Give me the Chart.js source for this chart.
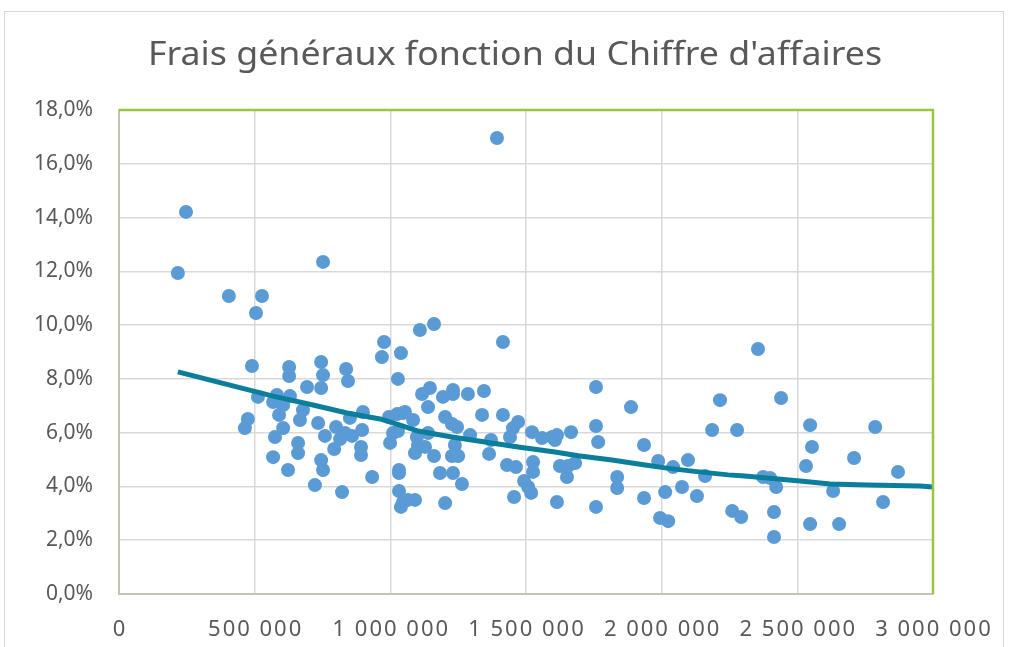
<!DOCTYPE html>
<html>
<head>
<meta charset="utf-8">
<script src="https://cdn.jsdelivr.net/npm/chart.js@4/dist/chart.umd.min.js"></script>
<style>
html,body{margin:0;padding:0;background:#fff;overflow:hidden;}
#wrap{position:relative;width:1010px;height:647px;}
</style>
</head>
<body>
<div id="wrap"><canvas id="c" width="1010" height="647"></canvas></div>
<script>
// Chiffre d'affaires (€)
const chiffreAffaires = [
 217000,247000,405000,527000,505000,752000,1393000,490000,977000,969000,
 1039000,627000,627000,745000,752000,745000,837000,844000,693000,1028000,
 512000,582000,630000,568000,605000,678000,590000,667000,734000,899000,
 851000,995000,1025000,1047000,475000,464000,605000,575000,800000,759000,
 833000,815000,896000,859000,892000,892000,793000,1010000,999000,660000,
 660000,568000,745000,752000,623000,933000,1032000,1032000,722000,822000,
 1032000,1047000,1039000,1109000,1161000,1415000,1117000,1146000,1194000,1231000,
 1231000,1286000,1345000,1139000,1054000,1084000,1202000,1227000,1246000,1338000,
 1415000,1471000,1452000,1441000,1522000,1559000,1596000,1028000,1098000,1139000,
 1102000,1128000,1091000,1161000,1238000,1227000,1250000,1294000,1371000,1364000,
 1183000,1231000,1264000,1430000,1463000,1526000,1526000,1493000,1508000,1519000,
 1456000,1065000,1091000,1202000,1614000,1758000,1887000,1758000,1766000,1614000,
 1607000,1666000,1935000,2186000,2278000,2215000,1625000,1655000,1681000,1651000,
 1836000,1836000,1987000,2042000,2097000,2160000,2075000,2013000,1935000,2130000,
 1758000,1994000,2024000,2260000,2293000,2355000,2440000,2547000,2787000,2554000,
 2532000,2709000,2871000,2374000,2400000,2422000,2632000,2816000,2414000,2547000,
 2654000,2414000
];
// Frais généraux (% du CA)
const fraisGeneraux = [
 11.94,14.21,11.08,11.08,10.45,12.35,16.96,8.48,9.37,8.81,
 8.96,8.44,8.11,8.63,8.14,7.66,8.37,7.92,7.70,8.00,
 7.33,7.40,7.36,7.14,7.03,6.84,6.66,6.47,6.36,6.77,
 6.55,6.58,6.69,6.73,6.51,6.17,6.17,5.84,6.21,5.88,
 5.99,5.76,6.10,5.88,5.47,5.17,5.39,5.99,5.62,5.62,
 5.24,5.09,4.98,4.61,4.61,4.35,4.61,4.50,4.05,3.79,
 3.83,3.42,3.24,9.82,10.04,9.37,7.44,7.66,7.33,7.59,
 7.44,7.44,7.55,6.95,6.77,6.47,6.58,6.32,6.21,6.66,
 6.66,6.40,6.17,5.84,6.02,5.80,5.84,6.06,5.84,5.99,
 5.54,5.47,5.24,5.13,5.54,5.13,5.13,5.91,5.73,5.21,
 4.50,4.50,4.09,4.80,4.72,4.91,4.54,4.20,3.98,3.76,
 3.61,3.50,3.50,3.38,3.42,7.70,6.95,6.25,5.65,5.91,
 5.73,6.02,5.54,6.10,6.10,7.21,4.76,4.76,4.87,4.35,
 4.35,3.94,4.95,4.72,4.98,4.39,3.98,3.79,3.57,3.64,
 3.24,2.83,2.71,3.09,2.86,9.11,7.29,6.28,6.21,5.47,
 4.76,5.06,4.54,4.35,4.31,3.98,3.83,3.42,3.05,2.60,
 2.60,2.12
];
// Courbe de tendance
const tendanceX = [217000,409000,568000,715000,840000,962000,1036000,1102000,1227000,1349000,1471000,1607000,1692000,1817000,1939000,2013000,2112000,2245000,2307000,2510000,2621000,2757000,2952000,3000000];
const tendanceY = [8.26,7.77,7.36,7.03,6.73,6.51,6.28,6.06,5.84,5.65,5.47,5.28,5.14,4.98,4.80,4.69,4.57,4.43,4.39,4.20,4.09,4.05,4.02,3.98];

const titre = "Frais généraux fonction du Chiffre d'affaires";
const xTicks = [0,500000,1000000,1500000,2000000,2500000,3000000];
const yTicks = [0,2,4,6,8,10,12,14,16,18];

const pts = chiffreAffaires.map((x,i)=>({x:x,y:fraisGeneraux[i]}));
const trend = tendanceX.map((x,i)=>({x:x,y:tendanceY[i]}));

const fmtX = v => String(v).replace(/\B(?=(\d{3})+(?!\d))/g,' ');
const fmtY = v => v.toFixed(1).replace('.', ',') + '%';

const deco = {
  id:'deco',
  beforeDraw(chart){
    const ctx = chart.ctx;
    ctx.save();
    ctx.fillStyle = '#fff';
    ctx.fillRect(0,0,chart.width,chart.height);
    ctx.strokeStyle = '#d9d9d9';
    ctx.lineWidth = 1;
    ctx.strokeRect(4.5,11.5,999,700);
    ctx.restore();
  },
  afterDraw(chart){
    const a = chart.chartArea, ctx = chart.ctx;
    ctx.save();
    ctx.strokeStyle = '#9bc53d';
    ctx.lineWidth = 2.5;
    ctx.beginPath();
    ctx.moveTo(a.left, a.top);
    ctx.lineTo(a.right, a.top);
    ctx.lineTo(a.right, a.bottom);
    ctx.stroke();
    // title
    ctx.font = "33px 'Noto Sans'";
    ctx.fillStyle = '#595959';
    ctx.textBaseline = 'alphabetic';
    ctx.textAlign = 'center';
    const w = ctx.measureText(titre).width;
    const sx = 734 / w;
    ctx.translate(515, 65);
    ctx.scale(sx, 1);
    ctx.fillText(titre, 0, 0);
    ctx.restore();
  }
};

const chart = new Chart(document.getElementById('c'), {
  type: 'scatter',
  data: {
    datasets: [
      {
        type: 'line',
        data: trend,
        borderColor: '#0a7e9b',
        borderWidth: 5,
        pointRadius: 0,
        fill: false,
        tension: 0,
        order: 0
      },
      {
        data: pts,
        backgroundColor: '#5b9bd5',
        borderWidth: 0,
        pointRadius: 7,
        order: 1
      }
    ]
  },
  options: {
    responsive: false,
    animation: false,
    layout: { padding: { left: 0, right: 77, top: 110, bottom: 0 } },
    plugins: {
      legend: { display: false },
      tooltip: { enabled: false },
      title: { display: false }
    },
    scales: {
      x: {
        type: 'linear',
        min: 0, max: 3000000,
        afterBuildTicks: s => { s.ticks = xTicks.map(v=>({value:v})); },
        afterFit: s => { s.height = 53; },
        grid: { color: '#d9d9d9', lineWidth: 1.5, drawTicks: false },
        border: { color: '#c3c5b2', width: 2 },
        ticks: { callback: fmtX, color: '#595959', padding: 23, maxRotation: 0,
                 font: { family: "'Noto Sans'", size: 22 } }
      },
      y: {
        type: 'linear',
        min: 0, max: 18,
        afterBuildTicks: s => { s.ticks = yTicks.map(v=>({value:v})); },
        afterFit: s => { s.width = 119; },
        grid: { color: '#d9d9d9', lineWidth: 1.5, drawTicks: false },
        border: { color: '#c3c5b2', width: 2 },
        ticks: { callback: fmtY, color: '#595959', padding: 26,
                 font: { family: "'Noto Sans'", size: 21 } }
      }
    }
  },
  plugins: [deco]
});
// wider letter spacing for the x-axis labels
const xs = chart.scales.x;
const origDrawLabels = xs.drawLabels.bind(xs);
xs.drawLabels = function(area){
  const c = this.ctx;
  c.save();
  c.letterSpacing = '2px';
  c.translate(1, 0);
  origDrawLabels(area);
  c.restore();
};
chart.draw();
</script>
</body>
</html>
